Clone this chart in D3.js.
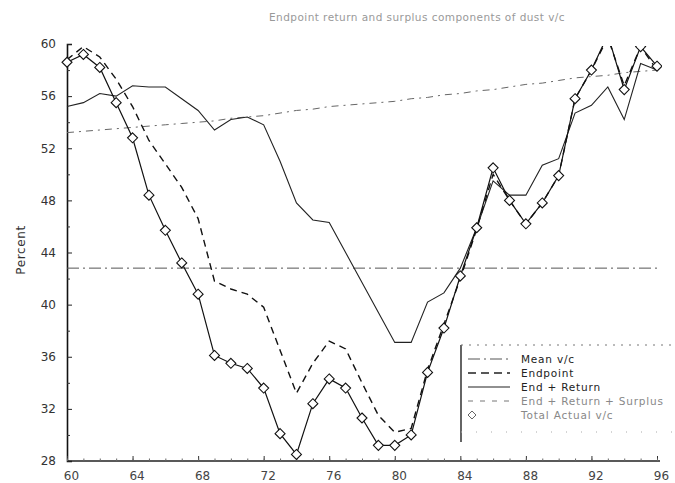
<!DOCTYPE html>
<html><head><meta charset="utf-8">
<script src="https://cdn.jsdelivr.net/npm/d3@7/dist/d3.min.js"></script>
<style>body{margin:0;background:#fff}svg{display:block}text{font-family:"DejaVu Sans",sans-serif}</style>
</head><body><svg id="c" width="675" height="483"></svg>
<script>
const years = [60,61,62,63,64,65,66,67,68,69,70,71,72,73,74,75,76,77,78,79,80,81,82,83,84,85,86,87,88,89,90,91,92,93,94,95,96];
const actual = [58.6,59.2,58.2,55.5,52.8,48.4,45.7,43.2,40.8,36.1,35.5,35.1,33.6,30.1,28.5,32.4,34.3,33.6,31.3,29.2,29.2,30.0,34.8,38.2,42.2,45.9,50.5,48.0,46.2,47.8,49.9,55.8,58.0,60.7,56.5,59.8,58.3];
const endReturn = [55.2,55.5,56.2,56.0,56.8,56.7,56.7,55.8,54.9,53.4,54.2,54.4,53.8,51.0,47.8,46.5,46.3,44.0,41.7,39.4,37.1,37.1,40.2,40.9,42.8,45.9,49.5,48.4,48.4,50.7,51.2,54.7,55.3,56.7,54.2,58.5,58.0];
const endReturnSurplus = [58.8,59.8,59.0,57.3,55.2,52.6,50.8,49.0,46.6,41.8,41.2,40.8,39.8,36.5,33.2,35.5,37.2,36.6,34.0,31.5,30.2,30.5,35.0,38.5,42.0,45.8,50.0,48.0,46.2,47.8,49.9,55.8,58.0,60.5,56.8,59.8,58.0];
const endpoint = [53.2,53.3,53.4,53.5,53.6,53.7,53.8,53.9,54.0,54.1,54.3,54.4,54.5,54.7,54.9,55.0,55.2,55.3,55.4,55.5,55.6,55.8,55.9,56.1,56.2,56.4,56.5,56.7,56.9,57.0,57.2,57.4,57.5,57.6,57.8,57.9,58.0];
const meanVC = 42.8;
const yTicks = [28,32,36,40,44,48,52,56,60];
const xTicks = [60,64,68,72,76,80,84,88,92,96];
const title = "Endpoint return and surplus components of dust v/c";
const legendLabels = ["Mean v/c","Endpoint","End + Return","End + Return + Surplus","Total Actual v/c"];

const svg = d3.select("#c");
const x = d3.scaleLinear().domain([60,96]).range([67,657]);
const y = d3.scaleLinear().domain([28,60]).range([461,44]);

svg.append("defs").append("clipPath").attr("id","plot")
  .append("rect").attr("x",60).attr("y",46).attr("width",602).attr("height",420);

// title
svg.append("text").attr("x",417).attr("y",21).attr("text-anchor","middle")
  .attr("font-size",10.5).attr("letter-spacing",0.45).attr("fill","#999").text(title);

// axes
const gy = svg.append("g").attr("transform","translate(67,0)")
  .call(d3.axisLeft(y).tickValues(yTicks).tickSize(-5).tickPadding(11).tickFormat(d3.format("d")));
gy.select(".domain").attr("stroke","#111").attr("stroke-width",1.6);
gy.selectAll(".tick line").attr("stroke","#222");
gy.selectAll(".tick text").attr("font-size",12).attr("fill","#333");
svg.append("g").attr("transform","translate(67,0)")
  .call(d3.axisLeft(y).tickValues([30,34,38,42,46,50,54,58]).tickSize(-3).tickFormat(""))
  .call(g=>g.select(".domain").remove()).selectAll("line").attr("stroke","#333");

const gx = svg.append("g").attr("transform","translate(0,461)")
  .call(d3.axisBottom(x).tickValues(xTicks).tickSize(-5).tickPadding(10).tickFormat(d=>String(d)));
gx.select(".domain").attr("stroke","#222").attr("stroke-width",1.3).attr("d","M67,0H660");
gx.selectAll(".tick line").attr("stroke","#333");
gx.selectAll(".tick text").attr("font-size",12).attr("fill","#444").attr("dx",4);
svg.append("g").attr("transform","translate(0,461)")
  .call(d3.axisBottom(x).tickValues(years).tickSize(-2.5).tickFormat(""))
  .call(g=>g.select(".domain").remove()).selectAll("line").attr("stroke","#666");

svg.append("text").attr("transform","translate(25,250) rotate(-90)").attr("text-anchor","middle")
  .attr("font-size",12).attr("letter-spacing",0.6).attr("fill","#333").text("Percent");

// lines
const styles = {
  mean:{stroke:"#555",w:1,dash:"12,4,2,4"},
  endpoint:{stroke:"#666",w:1,dash:"7,5,2,5"},
  er:{stroke:"#222",w:1.1,dash:null},
  ers:{stroke:"#111",w:1.4,dash:"7,5"},
  actual:{stroke:"#111",w:1.2,dash:null}
};
const plot = svg.append("g").attr("clip-path","url(#plot)");
const line = arr => d3.line().x((d,i)=>x(years[i])).y(d=>y(d))(arr);
function drawLine(arr, s){
  plot.append("path").attr("d",line(arr)).attr("fill","none").attr("stroke",s.stroke)
    .attr("stroke-width",s.w).attr("stroke-dasharray",s.dash);
}
plot.append("line").attr("x1",x(60)).attr("x2",x(96)).attr("y1",y(meanVC)).attr("y2",y(meanVC))
  .attr("stroke",styles.mean.stroke).attr("stroke-width",styles.mean.w).attr("stroke-dasharray",styles.mean.dash);
drawLine(endpoint, styles.endpoint);
drawLine(endReturn, styles.er);
drawLine(endReturnSurplus, styles.ers);
drawLine(actual, styles.actual);

const diamond = "M0,-5L5,0L0,5L-5,0Z";
plot.append("g").selectAll("path").data(actual).join("path")
  .attr("transform",(d,i)=>`translate(${x(years[i])},${y(d)})`)
  .attr("d",diamond).attr("fill","#fff").attr("stroke","#111").attr("stroke-width",1.1);

// legend
const lg = svg.append("g");
lg.append("rect").attr("x",461).attr("y",345).attr("width",220).attr("height",88).attr("fill","#fff").attr("stroke","none");
lg.append("line").attr("x1",461).attr("x2",461).attr("y1",345).attr("y2",442).attr("stroke","#111").attr("stroke-width",1.3);
lg.append("line").attr("x1",461).attr("x2",675).attr("y1",345).attr("y2",345).attr("stroke","#777").attr("stroke-dasharray","2,6");
lg.append("line").attr("x1",461).attr("x2",675).attr("y1",432).attr("y2",432).attr("stroke","#aaa").attr("stroke-dasharray","1,14");
const legStyles = [styles.mean, {stroke:"#222",w:1.4,dash:"8,5"}, styles.er, {stroke:"#777",w:1,dash:"5,7"}, null];
legendLabels.forEach((t,i)=>{
  const yy = 359 + i*14;
  const s = legStyles[i];
  if (s) {
    lg.append("line").attr("x1",468).attr("x2",510).attr("y1",yy).attr("y2",yy)
      .attr("stroke",s.stroke).attr("stroke-width",s.w).attr("stroke-dasharray",s.dash);
  } else {
    lg.append("path").attr("transform",`translate(472,${yy})`).attr("d","M0,-4L4,0L0,4L-4,0Z")
      .attr("fill","#fff").attr("stroke","#666");
  }
  lg.append("text").attr("x",521).attr("y",yy+4).attr("font-size",10.5).attr("letter-spacing",0.8)
    .attr("fill", i<3 ? "#222" : "#888").text(t);
});
</script></body></html>
